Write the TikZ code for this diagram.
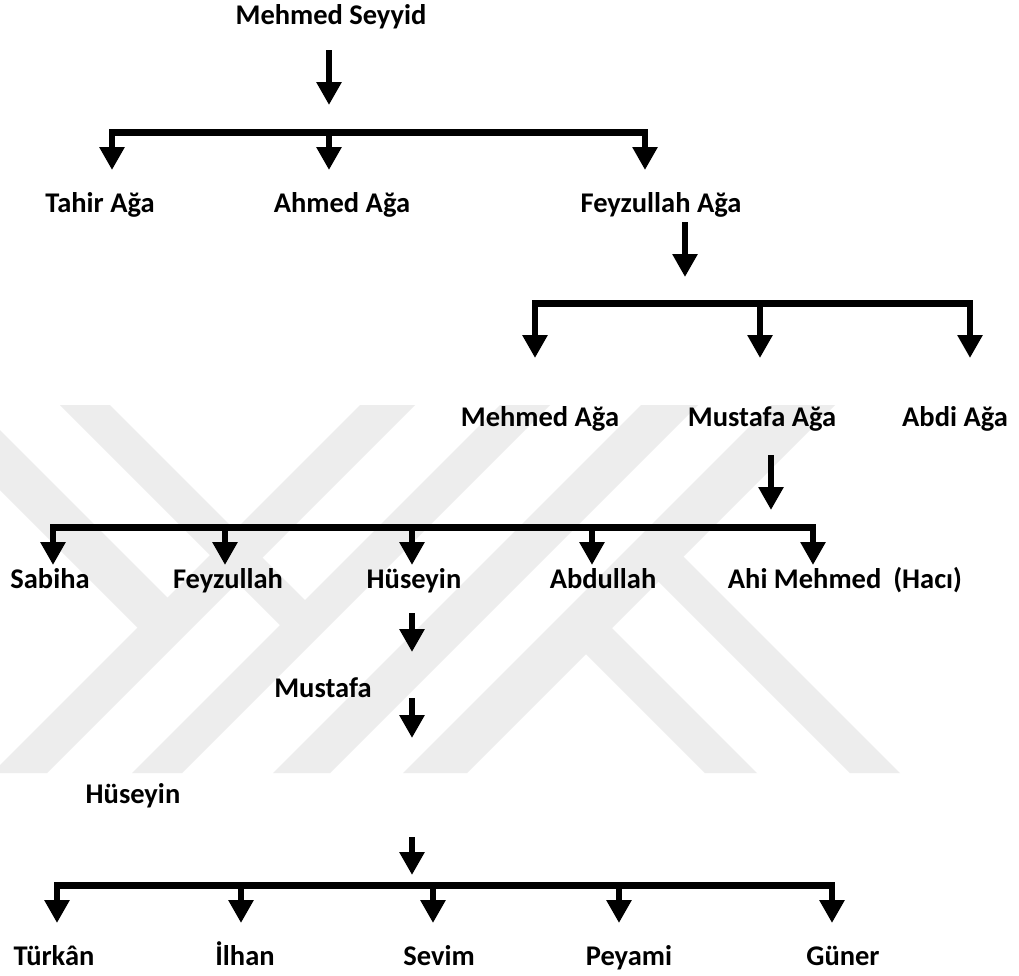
\documentclass[tikz,border=0pt]{standalone}
\usepackage{fontspec}
\setmainfont{Carlito}
\usetikzlibrary{arrows.meta}
\definecolor{wm}{RGB}{237,237,237}
\begin{document}
\begin{tikzpicture}[x=1pt,y=-1pt,
  lbl/.style={font=\fontsize{28.5}{34}\selectfont\bfseries, anchor=base, inner sep=0pt},
  arr/.style={line width=6pt, -{Triangle[width=24pt,length=23pt]}},
  barline/.style={line width=7pt},
  wmark/.style={fill=wm, draw=none}]
\useasboundingbox (0,0) rectangle (1019,975);
\fill[white] (0,0) rectangle (1019,975);
% watermark
\begin{scope}
\clip (0,0) rectangle (1019,975);
\fill[wmark] (360,405) -- (415,405) -- (47,773) -- (-8,773) -- cycle;
\fill[wmark] (500,405) -- (550,405) -- (182,773) -- (132,773) -- cycle;
\fill[wmark] (641,405) -- (698,405) -- (330,773) -- (273,773) -- cycle;
\fill[wmark] (771,405) -- (835,405) -- (467,773) -- (403,773) -- cycle;
\fill[wmark] (0,430) -- (180,610) -- (150,640) -- (0,490) -- cycle;
\fill[wmark] (60,405) -- (110,405) -- (317.5,612.5) -- (292.5,637.5) -- cycle;
\fill[wmark] (599.5,615.5) -- (757,773) -- (705,773) -- (573.5,641.5) -- cycle;
\fill[wmark] (671,544) -- (900,773) -- (850,773) -- (646,569) -- cycle;
\end{scope}
% labels
\node[lbl] (n0) at (331,24) {Mehmed Seyyid};
\node[lbl] (n1a) at (100,212) {Tahir Ağa};
\node[lbl] (n1b) at (342,212) {Ahmed Ağa};
\node[lbl] (n1c) at (661,212) {Feyzullah Ağa};
\node[lbl] (n2a) at (540,426) {Mehmed Ağa};
\node[lbl] (n2b) at (762,426) {Mustafa Ağa};
\node[lbl] (n2c) at (955,426) {Abdi Ağa};
\node[lbl] (n3a) at (50,588) {Sabiha};
\node[lbl] (n3b) at (228,588) {Feyzullah};
\node[lbl] (n3c) at (414,588) {Hüseyin};
\node[lbl] (n3d) at (603,588) {Abdullah};
\node[lbl] (n3e) at (845,588) {Ahi Mehmed\hspace{12pt}(Hacı)};
\node[lbl] (n4) at (323,697) {Mustafa};
\node[lbl] (n5) at (133,803) {Hüseyin};
\node[lbl] (n6a) at (54,965) {Türkân};
\node[lbl] (n6b) at (245,965) {İlhan};
\node[lbl] (n6c) at (439,965) {Sevim};
\node[lbl] (n6d) at (629,965) {Peyami};
\node[lbl] (n6e) at (843,965) {Güner};
% coordinates
\coordinate (s0a) at (329,50);  \coordinate (s0b) at (329,105);
\coordinate (b1l) at (112,132); \coordinate (b1r) at (645,132);
\coordinate (s1a) at (685,222); \coordinate (s1b) at (685,277);
\coordinate (b2l) at (535,303); \coordinate (b2r) at (970,303);
\coordinate (s2a) at (771,455); \coordinate (s2b) at (771,510);
\coordinate (b3l) at (53,527);  \coordinate (b3r) at (813,527);
\coordinate (s3a) at (412,613); \coordinate (s3b) at (412,652);
\coordinate (s4a) at (412,698); \coordinate (s4b) at (412,738);
\coordinate (s5a) at (412,837); \coordinate (s5b) at (412,875);
\coordinate (b4l) at (57,885);  \coordinate (b4r) at (832,885);
% stems
\draw[arr] (s0a) -- (s0b);
\draw[arr] (s1a) -- (s1b);
\draw[arr] (s2a) -- (s2b);
\draw[arr] (s3a) -- (s3b);
\draw[arr] (s4a) -- (s4b);
\draw[arr] (s5a) -- (s5b);
% bars
\draw[barline] ([xshift=-3pt]b1l) -- ([xshift=3pt]b1r);
\draw[barline] ([xshift=-3pt]b2l) -- ([xshift=3pt]b2r);
\draw[barline] ([xshift=-3pt]b3l) -- ([xshift=3pt]b3r);
\draw[barline] ([xshift=-3pt]b4l) -- ([xshift=3pt]b4r);
% drops level 1
\foreach \x in {112,329,645} \draw[arr] (\x,129) -- (\x,170);
% drops level 2
\foreach \x in {535,760,970} \draw[arr] (\x,300) -- (\x,358);
% drops level 3
\foreach \x in {53,225,412,592,813} \draw[arr] (\x,524) -- (\x,565);
% drops level 4
\foreach \x in {57,241,433,619,832} \draw[arr] (\x,882) -- (\x,923);
\end{tikzpicture}
\end{document}
